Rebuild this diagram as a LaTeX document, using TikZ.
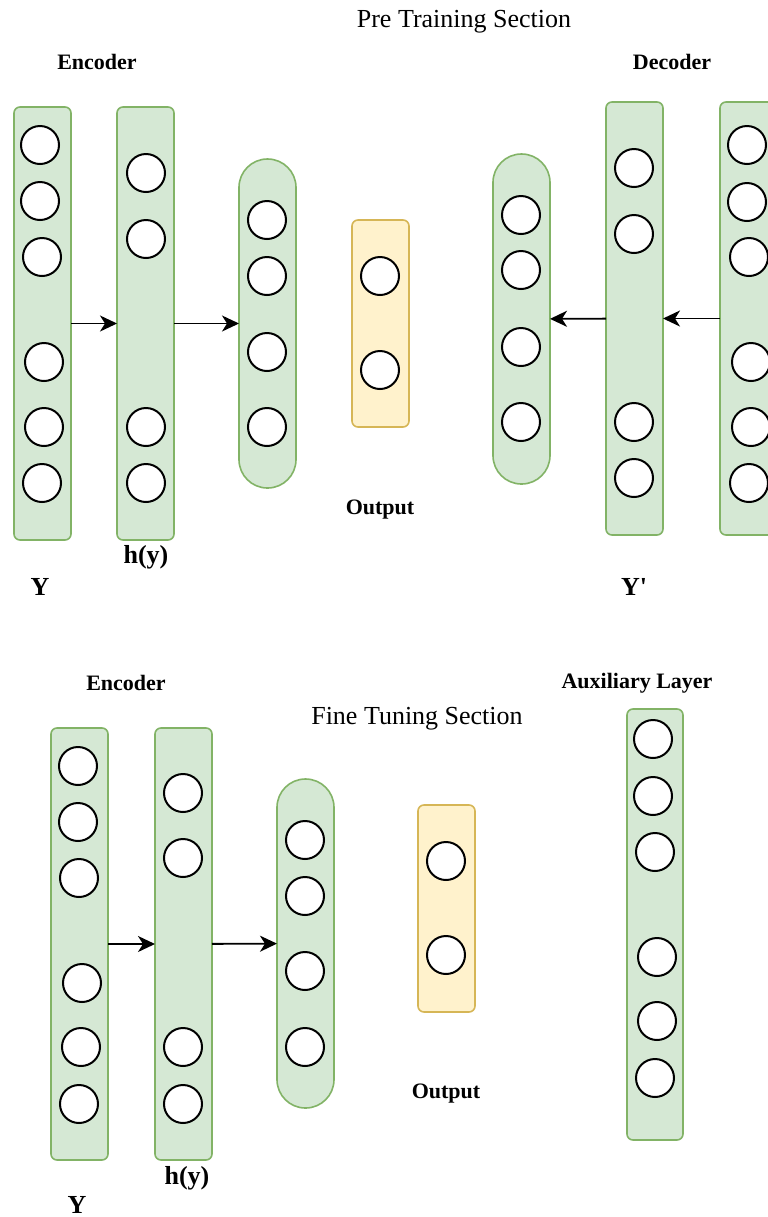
\documentclass[tikz,border=0pt]{standalone}
\usepackage{fontspec}
\setmainfont{Liberation Serif}
\usetikzlibrary{arrows.meta}
\definecolor{layergreen}{HTML}{D5E8D4}
\definecolor{layerborder}{HTML}{82B366}
\definecolor{outyellow}{HTML}{FFF2CC}
\definecolor{outborder}{HTML}{D6B656}

\begin{document}
\begin{tikzpicture}[x=0.5pt, y=-0.5pt,
  layer/.style={draw=layerborder, fill=layergreen, line width=0.8pt, rounded corners=3pt,
    minimum width=28.5pt, inner sep=0pt, outer sep=0pt},
  pill/.style={layer, rounded corners=14.2pt},
  outlayer/.style={layer, draw=outborder, fill=outyellow},
  unit/.style={circle, draw, fill=white, line width=1pt, minimum size=19pt, inner sep=0pt},
  lbl/.style={font=\bfseries\fontsize{11}{13}\selectfont},
  sym/.style={font=\bfseries\fontsize{13}{15}\selectfont},
  ttl/.style={font=\fontsize{13}{15}\selectfont},
  conn/.style={-{Stealth[length=8.5pt, width=8pt, inset=2.5pt]}, line width=0.9pt}]
  \useasboundingbox (0,0) rectangle (767,1217);

  % Pre training: encoder side
  \node[ttl] (pretitle) at (464,22) {Pre Training Section};
  \node[lbl] (enclbl) at (97,62) {Encoder};
  \node[layer, minimum height=216.5pt] (encin) at (42.5,323.5) {};
  \foreach \x/\y [count=\i] in {40/145, 40/201, 42/257, 44/362, 44/427, 42/483}
    \node[unit] (encin\i) at (\x,\y) {};
  \node[layer, minimum height=216.5pt] (enchid) at (145.5,323.5) {};
  \foreach \y [count=\i] in {173, 239, 427, 483}
    \node[unit] (enchid\i) at (146,\y) {};
  \node[pill, minimum height=164.5pt] (enccode) at (267.5,323.5) {};
  \foreach \y [count=\i] in {220, 276, 352, 427}
    \node[unit] (enccode\i) at (267,\y) {};
  \node[outlayer, minimum height=103.5pt] (encout) at (380.5,323.5) {};
  \foreach \y [count=\i] in {276, 370}
    \node[unit] (encout\i) at (380,\y) {};
  \draw[conn] (encin) -- (enchid);
  \draw[conn] (enchid) -- (enccode);
  \node[lbl] (outlbl) at (380,510) {Output};
  \node[sym] (hlbl) at (146,557) {h(y)};
  \node[sym] (ylbl) at (40,587) {Y};

  % Pre training: decoder side
  \node[lbl] (declbl) at (672,62) {Decoder};
  \node[pill, minimum height=165pt] (deccode) at (521.5,319) {};
  \foreach \y [count=\i] in {215, 270, 347, 422}
    \node[unit] (deccode\i) at (521,\y) {};
  \node[layer, minimum height=216.5pt] (dechid) at (634.5,318.5) {};
  \foreach \y [count=\i] in {168, 234, 422, 478}
    \node[unit] (dechid\i) at (634,\y) {};
  \node[layer, minimum height=216.5pt] (decrec) at (748.5,318.5) {};
  \foreach \x/\y [count=\i] in {747/145, 747/202, 749/257, 751/362, 751/427, 749/483}
    \node[unit] (decrec\i) at (\x,\y) {};
  \draw[conn] (dechid) -- (deccode);
  \draw[conn] (decrec) -- (dechid);
  \node[sym] (yplbl) at (634,587) {Y\textquotesingle};

  % Fine tuning
  \node[lbl] (ftenclbl) at (126,683) {Encoder};
  \node[ttl] (fttitle) at (417,719) {Fine Tuning Section};
  \node[lbl] (auxlbl) at (637,683) {Auxiliary Layer};
  \node[layer, minimum height=216pt] (ftin) at (79.5,944) {};
  \foreach \x/\y [count=\i] in {78/766, 78/822, 79/878, 82/983, 81/1047, 79/1104}
    \node[unit] (ftin\i) at (\x,\y) {};
  \node[layer, minimum height=216pt] (fthid) at (183.5,944) {};
  \foreach \y [count=\i] in {793, 858, 1047, 1104}
    \node[unit] (fthid\i) at (183,\y) {};
  \node[pill, minimum height=164.5pt] (ftcode) at (305.5,943.5) {};
  \foreach \y [count=\i] in {840, 896, 971, 1047}
    \node[unit] (ftcode\i) at (305,\y) {};
  \node[outlayer, minimum height=103.5pt] (ftout) at (446.5,908.5) {};
  \foreach \y [count=\i] in {861, 955}
    \node[unit] (ftout\i) at (446,\y) {};
  \node[layer, minimum width=28pt, minimum height=215.5pt] (aux) at (655,924.5) {};
  \foreach \x/\y [count=\i] in {653/739, 653/796, 655/852, 657/957, 657/1021, 655/1078}
    \node[unit] (aux\i) at (\x,\y) {};
  \draw[conn] (ftin) -- (fthid);
  \draw[conn] (fthid) -- (ftcode);
  \node[lbl] (ftoutlbl) at (446,1094) {Output};
  \node[sym] (fthlbl) at (187,1178) {h(y)};
  \node[sym] (ftylbl) at (77,1205) {Y};
\end{tikzpicture}
\end{document}
